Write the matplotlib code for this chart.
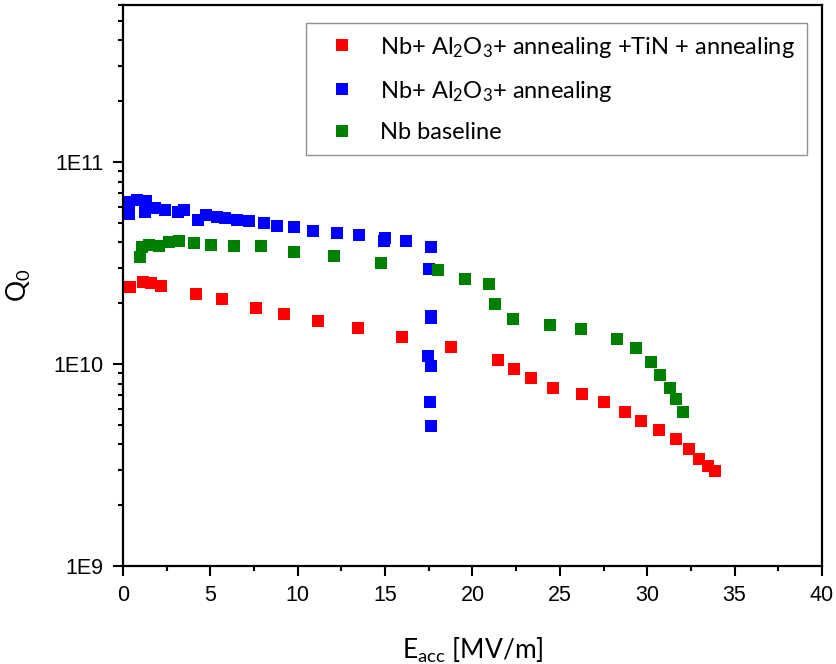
import math
import matplotlib
matplotlib.use('Agg')
import matplotlib.pyplot as plt
from matplotlib.ticker import FixedLocator, LogLocator, MultipleLocator, FuncFormatter

# E_acc [MV/m] and Q0
e_tin = [0.40, 1.14, 1.60, 2.17, 4.18, 5.67, 7.61, 9.21, 11.16, 13.45, 15.97, 18.77,
         21.46, 22.37, 23.35, 24.61, 26.27, 27.52, 28.73, 29.64, 30.67, 31.65, 32.39,
         32.96, 33.48, 33.88]
q_tin = [2.40e10, 2.55e10, 2.52e10, 2.43e10, 2.22e10, 2.09e10, 1.89e10, 1.77e10, 1.63e10,
         1.50e10, 1.36e10, 1.21e10, 1.05e10, 9.4e9, 8.5e9, 7.6e9, 7.1e9, 6.45e9, 5.82e9,
         5.25e9, 4.69e9, 4.23e9, 3.81e9, 3.40e9, 3.14e9, 2.96e9]

e_al = [0.34, 0.34, 0.80, 1.32, 1.26, 1.83, 2.40, 3.15, 3.49, 4.29, 4.75, 5.38, 5.84,
        6.52, 7.21, 8.07, 8.81, 9.79, 10.87, 12.25, 13.51, 14.99, 14.94, 16.19, 17.63,
        17.51, 17.63, 17.63, 17.45, 17.63, 17.57, 17.63]
q_al = [5.55e10, 6.36e10, 6.50e10, 6.43e10, 5.68e10, 5.94e10, 5.81e10, 5.68e10, 5.81e10,
        5.19e10, 5.49e10, 5.36e10, 5.30e10, 5.19e10, 5.13e10, 5.01e10, 4.84e10, 4.79e10,
        4.57e10, 4.47e10, 4.37e10, 4.22e10, 4.08e10, 4.08e10, 3.80e10, 2.95e10, 1.73e10,
        1.69e10, 1.10e10, 9.75e9, 6.46e9, 4.91e9]

e_nb = [0.97, 1.09, 1.49, 2.06, 2.63, 3.20, 4.06, 5.04, 6.35, 7.90, 9.79, 12.07, 14.76,
        18.03, 19.57, 20.94, 21.29, 22.32, 24.43, 26.21, 28.27, 29.36, 30.21, 30.73,
        31.30, 31.65, 32.05]
q_nb = [3.39e10, 3.80e10, 3.89e10, 3.84e10, 4.03e10, 4.07e10, 3.98e10, 3.89e10, 3.85e10,
        3.85e10, 3.59e10, 3.43e10, 3.16e10, 2.92e10, 2.63e10, 2.49e10, 1.98e10, 1.67e10,
        1.56e10, 1.49e10, 1.33e10, 1.20e10, 1.02e10, 8.8e9, 7.6e9, 6.7e9, 5.76e9]

labels = [r'Nb+ Al$_2$O$_3$+ annealing +TiN + annealing',
          r'Nb+ Al$_2$O$_3$+ annealing',
          'Nb baseline']

plt.rcParams['mathtext.default'] = 'regular'
tick_font = 'Liberation Sans'
text_font = 'Lato'

fig = plt.figure(figsize=(8.37, 6.64), dpi=100)
ax = fig.add_axes([0.147, 0.1476, 0.835, 0.845])

ms = 8.6
ax.plot(e_tin, q_tin, 's', color='#ff0000', ms=ms, mew=0, label=labels[0])
ax.plot(e_al, q_al, 's', color='#0000ff', ms=ms, mew=0, label=labels[1])
ax.plot(e_nb, q_nb, 's', color='#008000', ms=ms, mew=0, label=labels[2])

ax.set_yscale('log')
ax.set_xlim(0, 40)
ax.set_ylim(1e9, 6e11)
ax.xaxis.set_major_locator(MultipleLocator(5))
ax.xaxis.set_minor_locator(MultipleLocator(2.5))
ax.yaxis.set_major_locator(FixedLocator([1e9, 1e10, 1e11]))
ax.yaxis.set_minor_locator(LogLocator(base=10, subs=range(2, 10)))
ax.yaxis.set_major_formatter(FuncFormatter(lambda v, p: '1E%d' % round(math.log10(v))))
ax.yaxis.set_minor_formatter(FuncFormatter(lambda v, p: ''))

for s in ax.spines.values():
    s.set_linewidth(1.6)
ax.tick_params(which='major', direction='out', length=7, width=1.5, labelsize=15.5, pad=7)
ax.tick_params(which='minor', direction='out', length=3.5, width=1.5)
for lab in ax.get_xticklabels() + ax.get_yticklabels():
    lab.set_fontfamily(tick_font)

ax.set_xlabel(r'E$_{acc}$ [MV/m]', fontsize=19, family=text_font, labelpad=21)
ax.set_ylabel(r'Q$_0$', fontsize=19, family=text_font, labelpad=15)

leg = ax.legend(loc='upper left', bbox_to_anchor=(0.2618, 0.968), borderaxespad=0,
                frameon=True, fancybox=False, prop={'family': text_font, 'size': 17},
                handlelength=2.05, handletextpad=0.6, labelspacing=0.8, borderpad=0.5,
                markerscale=1.0)
leg.get_frame().set_edgecolor('#777777')
leg.get_frame().set_linewidth(1)

fig.savefig('out.png', dpi=100)
